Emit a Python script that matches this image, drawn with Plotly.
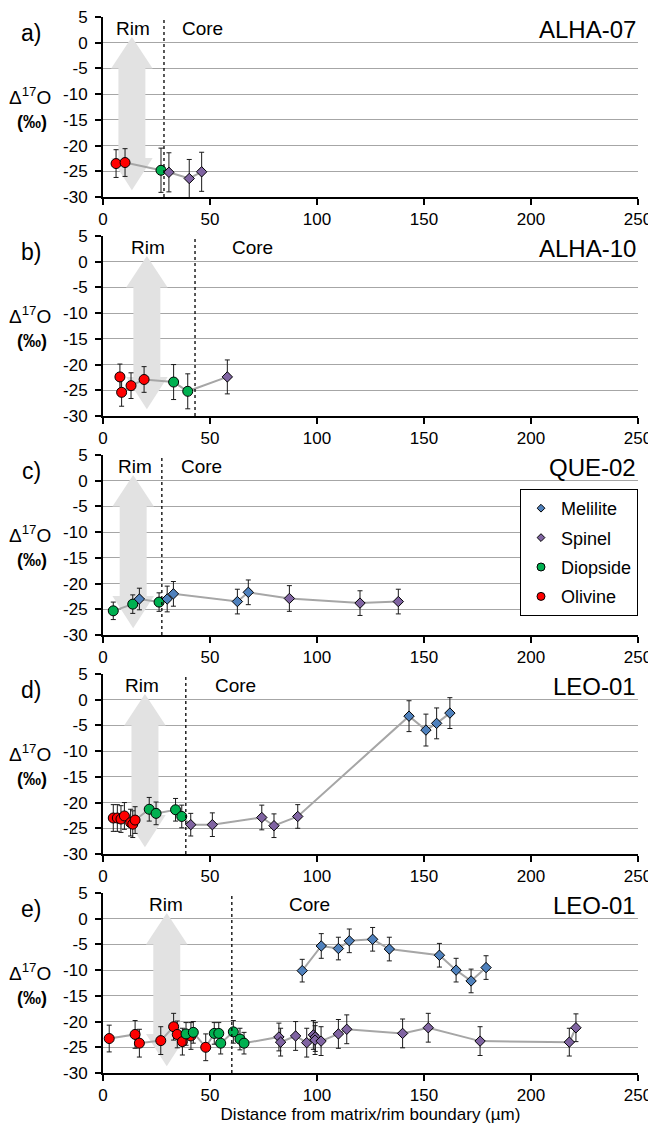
import numpy as np
import plotly.graph_objects as go
from plotly.subplots import make_subplots

# ---------------- DATA ----------------
# Panel a) ALHA-07
a_olivine_x = [6.1, 10.3]
a_olivine_y = [-23.5, -23.3]
a_olivine_e = [2.7, 2.7]
a_diopside_x = [27.1]
a_diopside_y = [-24.8]
a_diopside_e = [4.3]
a_spinel_x = [30.8, 40.3, 46.1]
a_spinel_y = [-25.2, -26.4, -25.1]
a_spinel_e = [3.8, 3.7, 3.8]

# Panel b) ALHA-10
b_olivine_x = [7.9, 8.7, 13.1, 19.2]
b_olivine_y = [-22.4, -25.4, -24.1, -22.9]
b_olivine_e = [2.5, 2.7, 2.5, 2.5]
b_diopside_x = [33.0, 39.6]
b_diopside_y = [-23.4, -25.2]
b_diopside_e = [3.4, 3.4]
b_spinel_x = [58.1]
b_spinel_y = [-22.4]
b_spinel_e = [3.3]

# Panel c) QUE-02
c_diopside_x = [4.8, 13.9, 26.2]
c_diopside_y = [-25.3, -24.0, -23.6]
c_diopside_e = [1.7, 1.8, 1.8]
c_melilite_x = [17.0, 30.0, 32.9, 62.8, 67.9]
c_melilite_y = [-23.0, -23.0, -22.0, -23.5, -21.7]
c_melilite_e = [2.1, 2.5, 2.4, 2.4, 2.4]
c_spinel_x = [87.1, 120.1, 138.0]
c_spinel_y = [-22.9, -23.8, -23.5]
c_spinel_e = [2.5, 2.4, 2.4]

# Panel d) LEO-01
d_olivine_x = [4.8, 6.7, 8.4, 10.0, 12.9, 13.9, 15.0]
d_olivine_y = [-23.0, -23.0, -23.2, -22.6, -23.9, -24.2, -23.4]
d_olivine_e = [2.6, 2.6, 2.6, 2.6, 2.6, 2.6, 2.6]
d_diopside_x = [21.6, 24.8, 33.9, 36.8]
d_diopside_y = [-21.3, -22.1, -21.4, -22.7]
d_diopside_e = [2.3, 2.2, 2.2, 2.2]
d_spinel_x = [41.0, 51.1, 74.2, 79.9, 91.0]
d_spinel_y = [-24.3, -24.3, -22.9, -24.5, -22.7]
d_spinel_e = [2.2, 2.3, 2.4, 2.3, 2.3]
d_melilite_x = [143.0, 150.9, 155.9, 162.1]
d_melilite_y = [-3.2, -5.9, -4.6, -2.6]
d_melilite_e = [3.0, 3.1, 3.0, 3.0]

# Panel e) LEO-01
e_olivine_x = [2.9, 15.0, 17.0, 27.0, 33.0, 34.7, 37.1, 41.1, 48.0]
e_olivine_y = [-23.3, -22.5, -24.2, -23.7, -21.0, -22.5, -23.9, -22.8, -25.0]
e_olivine_e = [2.6, 2.7, 2.7, 2.7, 2.6, 2.6, 2.6, 2.6, 2.6]
e_diopside_x = [38.8, 42.2, 52.0, 54.1, 55.0, 60.9, 64.0, 65.9]
e_diopside_y = [-22.4, -22.1, -22.3, -22.3, -24.2, -22.0, -23.4, -24.2]
e_diopside_e = [2.2, 2.1, 2.1, 2.1, 2.1, 2.2, 2.1, 2.1]
e_spinel_x = [82.2, 83.0, 90.0, 95.2, 98.3, 99.2, 99.1, 101.9, 110.0, 113.9,
              140.0, 152.0, 176.2, 217.9, 221.0]
e_spinel_y = [-23.0, -24.0, -22.8, -24.1, -22.6, -23.0, -23.6, -23.8, -22.4, -21.5,
              -22.3, -21.2, -23.8, -24.0, -21.2]
e_spinel_e = [2.7, 2.7, 2.8, 2.8, 2.8, 2.8, 2.8, 2.8, 2.8, 2.8,
              2.8, 2.8, 2.8, 2.7, 2.7]
e_melilite_x = [93.1, 102.0, 110.0, 115.1, 126.0, 133.8, 157.2, 165.0, 172.0, 179.0]
e_melilite_y = [-10.1, -5.3, -5.8, -4.3, -4.0, -5.9, -7.1, -10.0, -12.1, -9.5]
e_melilite_e = [2.2, 2.4, 2.2, 2.3, 2.3, 2.3, 2.3, 2.3, 2.3, 2.3]

panel_letters = ["a)", "b)", "c)", "d)", "e)"]
sample_names = ["ALHA-07", "ALHA-10", "QUE-02", "LEO-01", "LEO-01"]
rim_core_boundary = [28.5, 43.0, 27.5, 38.7, 60.2]

x_tick_vals = [0, 50, 100, 150, 200, 250]
x_tick_text = ["0", "50", "100", "150", "200", "250"]
y_tick_vals = [5, 0, -5, -10, -15, -20, -25, -30]
y_tick_text = ["5", "0", "-5", "-10", "-15", "-20", "-25", "-30"]

x_title = "Distance from matrix/rim boundary (µm)"
legend_order = ["Melilite", "Spinel", "Diopside", "Olivine"]

# ---------------- layout helpers (positions / styles) ----------------
arrow_center = [13.5, 20.5, 14.1, 19.6, 29.8]
rim_label_x = [14.0, 21.0, 15.0, 18.2, 29.4]
core_label_x = [46.7, 70.0, 45.8, 61.7, 96.7]

panels = [
    {"data": {"Olivine": (a_olivine_x, a_olivine_y, a_olivine_e),
              "Diopside": (a_diopside_x, a_diopside_y, a_diopside_e),
              "Spinel": (a_spinel_x, a_spinel_y, a_spinel_e)},
     "lines": [["Olivine", "Diopside", "Spinel"]]},
    {"data": {"Olivine": (b_olivine_x, b_olivine_y, b_olivine_e),
              "Diopside": (b_diopside_x, b_diopside_y, b_diopside_e),
              "Spinel": (b_spinel_x, b_spinel_y, b_spinel_e)},
     "lines": [["Olivine", "Diopside", "Spinel"]]},
    {"data": {"Diopside": (c_diopside_x, c_diopside_y, c_diopside_e),
              "Melilite": (c_melilite_x, c_melilite_y, c_melilite_e),
              "Spinel": (c_spinel_x, c_spinel_y, c_spinel_e)},
     "lines": [["Diopside", "Melilite", "Spinel"]]},
    {"data": {"Olivine": (d_olivine_x, d_olivine_y, d_olivine_e),
              "Diopside": (d_diopside_x, d_diopside_y, d_diopside_e),
              "Spinel": (d_spinel_x, d_spinel_y, d_spinel_e),
              "Melilite": (d_melilite_x, d_melilite_y, d_melilite_e)},
     "lines": [["Olivine", "Diopside", "Spinel", "Melilite"]]},
    {"data": {"Olivine": (e_olivine_x, e_olivine_y, e_olivine_e),
              "Diopside": (e_diopside_x, e_diopside_y, e_diopside_e),
              "Spinel": (e_spinel_x, e_spinel_y, e_spinel_e),
              "Melilite": (e_melilite_x, e_melilite_y, e_melilite_e)},
     "lines": [["Olivine", "Diopside", "Spinel"], ["Melilite"]]},
]

FONT = "Liberation Sans, Arial, sans-serif"
COLORS = {"Melilite": "#4f81bd", "Spinel": "#8064a2", "Diopside": "#00b050", "Olivine": "#ff0000"}
SYMBOLS = {"Melilite": "diamond", "Spinel": "diamond", "Diopside": "circle", "Olivine": "circle"}
SIZES = {"Melilite": 8, "Spinel": 8, "Diopside": 10, "Olivine": 10}
LEG_SIZES = {"Melilite": 6, "Spinel": 6, "Diopside": 8, "Olivine": 8}

# page body has an 8px default margin -> compensate
W, H = 648, 1119
ML, MR, MT, MB = 95, 18, 9, 54
GAP = 39.0
plot_h = H - MT - MB

fig = make_subplots(rows=5, cols=1, vertical_spacing=GAP / plot_h)

for i, p in enumerate(panels):
    row = i + 1
    sfx = "" if row == 1 else str(row)

    # double-headed grey arrow (decoration, drawn first so it sits behind data)
    cx = arrow_center[i]
    hw, hh = 6.3, 9.7
    tt, bt, bb, tb = 1.1, -5.0, -22.4, -28.7
    ax = [cx, cx + hh, cx + hw, cx + hw, cx + hh, cx, cx - hh, cx - hw, cx - hw, cx - hh, cx]
    ay = [tt, bt, bt, bb, bb, tb, bb, bb, bt, bt, tt]
    fig.add_trace(go.Scatter(x=ax, y=ay, mode="lines", fill="toself",
                             fillcolor="#e2e2e2", line=dict(width=0, color="#e2e2e2"),
                             showlegend=False, hoverinfo="skip"), row=row, col=1)

    # connecting grey lines
    for group in p["lines"]:
        xs = np.concatenate([p["data"][m][0] for m in group])
        ys = np.concatenate([p["data"][m][1] for m in group])
        order = np.argsort(xs, kind="stable")
        fig.add_trace(go.Scatter(x=xs[order], y=ys[order], mode="lines",
                                 line=dict(color="#a6a6a6", width=2),
                                 showlegend=False, hoverinfo="skip"), row=row, col=1)
    for m, (xv, yv, ev) in p["data"].items():
        fig.add_trace(go.Scatter(
            x=xv, y=yv, mode="markers", name=m, showlegend=False,
            marker=dict(color=COLORS[m], symbol=SYMBOLS[m], size=SIZES[m],
                        line=dict(color="black", width=1)),
            error_y=dict(type="data", array=ev, color="#1a1a1a", thickness=1, width=2.5),
        ), row=row, col=1)

    # rim/core boundary
    fig.add_shape(type="line", x0=rim_core_boundary[i], x1=rim_core_boundary[i],
                  y0=0, y1=1, xref="x" + sfx, yref=f"y{sfx} domain",
                  line=dict(color="black", width=1.3, dash="dot"), layer="above")

    xd, yd = f"x{sfx} domain", f"y{sfx} domain"
    fig.add_annotation(text=panel_letters[i], xref=xd, yref=yd, x=-0.112, y=0.91,
                       xanchor="right", yanchor="middle", showarrow=False,
                       font=dict(size=23, color="black", family=FONT))
    fig.add_annotation(text="Δ<sup>17</sup>O", xref=xd, yref=yd, x=-0.136, y=0.56,
                       xanchor="center", yanchor="middle", showarrow=False,
                       font=dict(size=19, color="black", family=FONT))
    fig.add_annotation(text="<b>(‰)</b>", xref=xd, yref=yd, x=-0.133, y=0.415,
                       xanchor="center", yanchor="middle", showarrow=False,
                       font=dict(size=18, color="black", family=FONT))
    fig.add_annotation(text=sample_names[i], xref=xd, yref=yd, x=1.0, y=0.93,
                       xanchor="right", yanchor="middle", showarrow=False,
                       font=dict(size=24, color="black", family=FONT))
    fig.add_annotation(text="Rim", xref="x" + sfx, yref=yd, x=rim_label_x[i], y=0.938,
                       xanchor="center", yanchor="middle", showarrow=False,
                       font=dict(size=19, color="black", family=FONT))
    fig.add_annotation(text="Core", xref="x" + sfx, yref=yd, x=core_label_x[i], y=0.938,
                       xanchor="center", yanchor="middle", showarrow=False,
                       font=dict(size=19, color="black", family=FONT))

# legend-only traces
for k, m in enumerate(legend_order):
    fig.add_trace(go.Scatter(x=[None], y=[None], mode="markers", name=m,
                             legendgroup=m, showlegend=True,
                             marker=dict(color=COLORS[m], symbol=SYMBOLS[m], size=LEG_SIZES[m],
                                         line=dict(color="black", width=1))),
                  row=3, col=1)

fig.update_xaxes(range=[0, 250], tickvals=x_tick_vals, ticktext=x_tick_text,
                 showgrid=False, zeroline=False, showline=True, linecolor="black", linewidth=2,
                 ticks="outside", ticklen=6, tickwidth=2, tickcolor="black", automargin=False,
                 ticklabeloverflow="allow",
                 tickfont=dict(size=17, color="black", family=FONT))
fig.update_yaxes(range=[-30, 5], tickvals=y_tick_vals, ticktext=y_tick_text,
                 showgrid=True, gridcolor="#a6a6a6", gridwidth=1, zeroline=False,
                 showline=True, linecolor="black", linewidth=2,
                 ticks="outside", ticklen=6, tickwidth=2, tickcolor="black",
                 ticklabelstandoff=4, automargin=False, ticklabeloverflow="allow",
                 tickfont=dict(size=17, color="black", family=FONT))
fig.update_xaxes(title=dict(text=x_title, font=dict(size=17, color="black", family=FONT),
                            standoff=2), row=5, col=1)

fig.update_layout(
    width=W, height=H,
    margin=dict(l=ML, r=MR, t=MT, b=MB, autoexpand=False),
    paper_bgcolor="white", plot_bgcolor="white",
    font=dict(family=FONT, color="black"),
    legend=dict(x=1.0, xanchor="right", y=(H - MB - (489 - 8)) / plot_h, yanchor="top",
                bordercolor="black", borderwidth=1, bgcolor="white",
                font=dict(size=18, color="black", family=FONT),
                tracegroupgap=3, itemwidth=30),
)

fig.write_html("out.html")
